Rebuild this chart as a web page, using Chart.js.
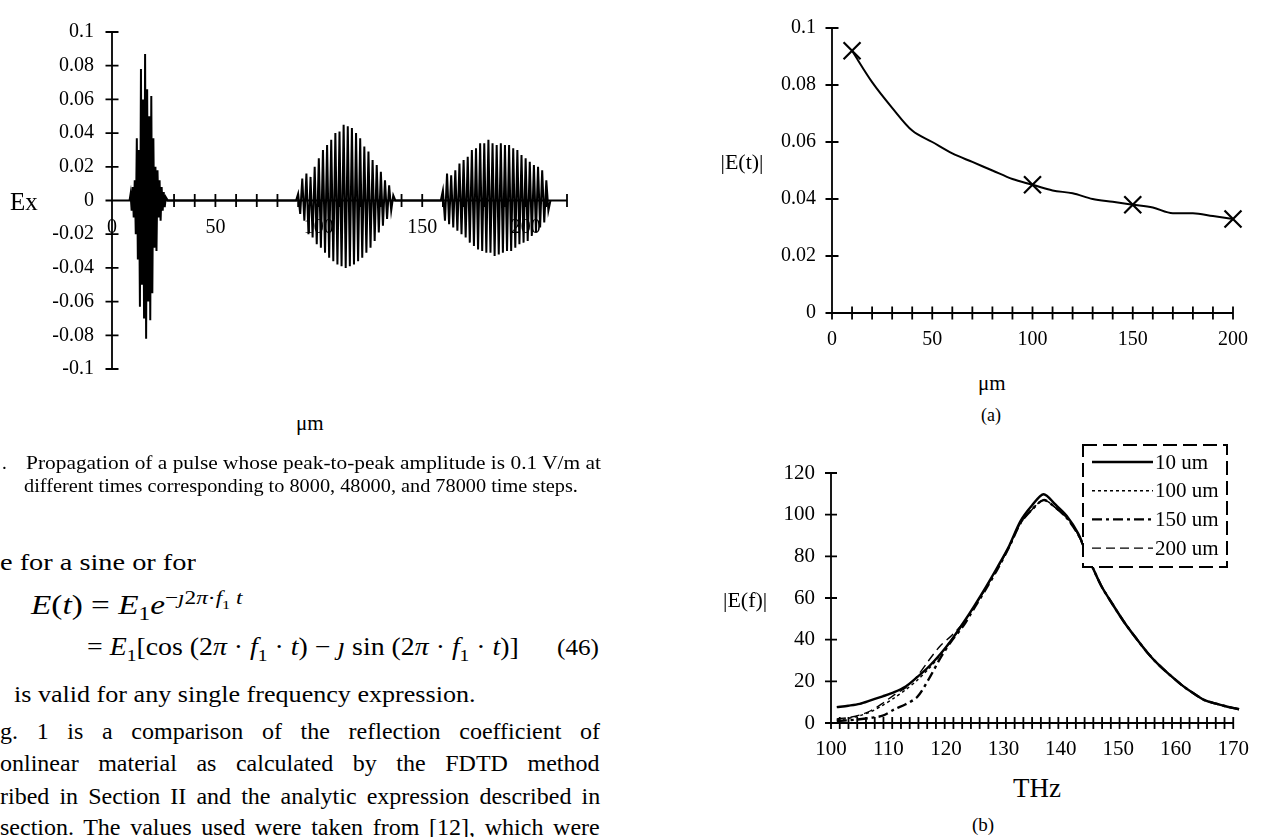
<!DOCTYPE html>
<html>
<head>
<meta charset="utf-8">
<script src="https://cdn.jsdelivr.net/npm/chart.js@4.4.1/dist/chart.umd.min.js"></script>
<style>
  html, body { margin: 0; padding: 0; background: #fff; overflow: hidden; }
  body { width: 1263px; height: 837px; position: relative; }
  .box { position: absolute; }
  .txt { position: absolute; white-space: nowrap; line-height: 1; font-family: 'Liberation Serif', serif; color: #000; transform-origin: 0 50%; }
  .txt sub, .txt sup { font-size: 70%; line-height: 0; }
</style>
</head>
<body>
<div class="box" style="left:0;top:0"><canvas id="pulse-chart" width="600" height="400"></canvas></div>
<div class="box" style="left:700px;top:0"><canvas id="decay-chart" width="563" height="370"></canvas></div>
<div class="box" style="left:700px;top:430px"><canvas id="spectrum-chart" width="563" height="340"></canvas></div>
<script>
// Fig. 2 - pulse snapshots, Ex vs position (um)
const pulseX = [
  8.5, 9, 9.5, 10, 10.5, 11, 11.5, 12, 12.5, 13, 13.5, 14, 14.5, 15, 15.5, 16, 16.5, 17, 17.5, 18,
  18.5, 19, 19.5, 20, 20.5, 21, 21.5, 22, 22.5, 23, 23.5, 24, 24.5, 25, 25.5, 26, 27,
  89, 90, 91, 92, 93, 94, 95, 96, 97, 98, 99, 100, 101, 102, 103, 104, 105, 106, 107, 108, 109,
  110, 111, 112, 113, 114, 115, 116, 117, 118, 119, 120, 121, 122, 123, 124, 125, 126, 127, 128,
  129, 130, 131, 132, 133, 134, 135, 136, 137,
  159, 160, 161, 162, 163, 164, 165, 166, 167, 168, 169, 170, 171, 172, 173, 174, 175, 176, 177,
  178, 179, 180, 181, 182, 183, 184, 185, 186, 187, 188, 189, 190, 191, 192, 193, 194, 195, 196,
  197, 198, 199, 200, 201, 202, 203, 204, 205, 206, 207, 208, 209, 210, 211, 212
];
const pulseEx = [
  0, 0.004, -0.006, 0.008, -0.01, 0.012, -0.02, 0.037, -0.035, 0.03, -0.063, 0.078, -0.05, 0.06, -0.07, 0.087, -0.082, 0.066, -0.06, 0.05,
  -0.071, 0.062, -0.055, 0.037, -0.028, 0.02, -0.03, 0.018, -0.01, 0.012, -0.012, 0.008, -0.006, 0.005, -0.004, 0.002, 0,
  0, 0.004, -0.008, 0.013, -0.012, 0.016, -0.02, 0.014, -0.022, 0.02, -0.026, 0.025, -0.028, 0.03, -0.031, 0.033, -0.034, 0.036, -0.036, 0.04, -0.038,
  0.041, -0.039, 0.045, -0.04, 0.044, -0.039, 0.043, -0.038, 0.04, -0.036, 0.037, -0.034, 0.032, -0.031, 0.029, -0.028, 0.024, -0.024, 0.021,
  -0.019, 0.017, -0.015, 0.012, -0.011, 0.009, -0.006, 0.003, 0,
  0, 0.006, -0.012, 0.016, -0.014, 0.015, -0.016, 0.018, -0.018, 0.022, -0.02, 0.024, -0.022, 0.026, -0.025, 0.03, -0.027, 0.031, -0.029,
  0.034, -0.03, 0.034, -0.031, 0.036, -0.031, 0.034, -0.033, 0.033, -0.032, 0.034, -0.031, 0.033, -0.03, 0.033, -0.03, 0.031, -0.028, 0.03,
  -0.026, 0.027, -0.025, 0.025, -0.024, 0.023, -0.021, 0.021, -0.019, 0.02, -0.016, 0.018, -0.013, 0.012, -0.006, 0
];

// (a) peak |E(t)| vs distance
const distX = [10, 20, 30, 40, 50, 60, 70, 80, 90, 100, 110, 120, 130, 140, 150, 160, 170, 180, 190, 200];
const peakE = [0.092, 0.081, 0.072, 0.064, 0.060, 0.056, 0.053, 0.050, 0.047, 0.045, 0.043, 0.042, 0.040, 0.039, 0.038, 0.037, 0.035, 0.035, 0.034, 0.033];
const markedX = [10, 100, 150, 200];

// (b) spectra |E(f)| vs THz
const freqTHz = [101, 103, 105, 107, 109, 111, 113, 115, 117, 119, 121, 123, 125, 127, 129, 131, 133, 135, 137,
  139, 141, 143, 145, 147, 149, 151, 153, 155, 157, 159, 161, 163, 165, 167, 169, 171, 172.5];
const spec10 = [7.6, 8.3, 9.2, 11.0, 12.8, 14.8, 17.5, 22.0, 27.0, 33.0, 40.0, 48.0, 56.5, 65.5, 75.0, 85.0, 97.0, 104.5, 109.8,
  105.0, 99.5, 91.0, 78.0, 66.0, 57.0, 48.5, 41.0, 34.0, 28.0, 23.0, 18.3, 14.4, 11.0, 9.3, 7.8, 6.6, 5.2];
const spec100 = [1.5, 2.2, 3.5, 5.5, 8.5, 12.0, 16.0, 20.5, 26.0, 32.5, 40.0, 47.5, 56.0, 65.0, 74.5, 84.5, 96.0, 102.5, 107.0,
  103.5, 98.5, 90.5, 78.0, 66.0, 57.0, 48.5, 41.0, 34.0, 28.0, 23.0, 18.3, 14.4, 11.0, 9.3, 7.8, 6.6, 5.2];
const spec150 = [1.0, 1.3, 1.8, 2.5, 3.5, 6.5, 9.0, 12.5, 21.0, 31.0, 39.5, 46.5, 55.5, 64.5, 74.0, 84.5, 96.0, 102.5, 107.0,
  103.5, 98.5, 90.5, 78.0, 66.0, 57.0, 48.5, 41.0, 34.0, 28.0, 23.0, 18.3, 14.4, 11.0, 9.3, 7.8, 6.6, 5.2];
const spec200 = [2.0, 2.6, 3.8, 6.0, 9.5, 13.5, 17.0, 22.5, 30.0, 37.0, 42.0, 48.0, 56.0, 65.0, 74.5, 84.5, 96.0, 102.5, 107.0,
  103.5, 98.5, 90.5, 78.0, 66.0, 57.0, 48.5, 41.0, 34.0, 28.0, 23.0, 18.3, 14.4, 11.0, 9.3, 7.8, 6.6, 5.2];
const specLabels = ['10 um', '100 um', '150 um', '200 um'];

Chart.defaults.font.family = "'Liberation Serif', serif";
Chart.defaults.color = '#000';

// axis lines with crossing tick marks, like the old spreadsheet plots
const axisMarks = {
  id: 'axisMarks',
  afterDatasetsDraw(chart, args, o) {
    const { ctx } = chart;
    const xs = chart.scales.x, ys = chart.scales.y;
    const yAxis = ys.getPixelForValue(0);
    const xAxis = xs.getPixelForValue(xs.min);
    const len = o.len;
    ctx.save();
    ctx.strokeStyle = '#000';
    ctx.lineWidth = o.lineWidth;
    ctx.beginPath();
    ctx.moveTo(xs.getPixelForValue(xs.min), yAxis);
    ctx.lineTo(xs.getPixelForValue(xs.max), yAxis);
    ctx.moveTo(xAxis, ys.getPixelForValue(ys.min));
    ctx.lineTo(xAxis, ys.getPixelForValue(ys.max));
    const nx = Math.round((xs.max - xs.min) / o.xStep);
    for (let i = 0; i <= nx; i++) {
      const px = xs.getPixelForValue(xs.min + i * o.xStep);
      ctx.moveTo(px, yAxis - len);
      ctx.lineTo(px, yAxis + len);
    }
    const ny = Math.round((ys.max - ys.min) / o.yStep);
    for (let i = 0; i <= ny; i++) {
      const py = ys.getPixelForValue(ys.min + i * o.yStep);
      ctx.moveTo(xAxis - len, py);
      ctx.lineTo(xAxis + len, py);
    }
    ctx.stroke();
    ctx.restore();
  }
};

// dashed legend box drawn inside the plot
const boxLegend = {
  id: 'boxLegend',
  afterDatasetsDraw(chart, args, o) {
    const { ctx, chartArea } = chart;
    const left = chartArea.left + o.dx, top = chartArea.top + o.dy;
    ctx.save();
    ctx.fillStyle = '#fff';
    ctx.fillRect(left, top, o.w, o.h);
    ctx.setLineDash([14, 6]);
    ctx.lineWidth = 2;
    ctx.strokeStyle = '#000';
    ctx.strokeRect(left, top, o.w, o.h);
    ctx.font = o.font;
    ctx.textBaseline = 'middle';
    ctx.fillStyle = '#000';
    chart.data.datasets.forEach((ds, i) => {
      const y = top + o.firstRow + i * o.rowGap;
      ctx.setLineDash(ds.borderDash || []);
      ctx.lineWidth = ds.borderWidth;
      ctx.beginPath();
      ctx.moveTo(left + 9, y);
      ctx.lineTo(left + 70, y);
      ctx.stroke();
      ctx.fillText(ds.label, left + 72, y + 1);
    });
    ctx.restore();
  }
};

const tickFont = { family: "'Liberation Serif', serif", size: 20 };
const fmt = v => String(+Number(v).toFixed(2));

new Chart(document.getElementById('pulse-chart'), {
  type: 'line',
  data: {
    datasets: [{
      data: pulseX.map((x, i) => ({ x: x, y: pulseEx[i] })),
      borderColor: '#000',
      borderWidth: 2,
      pointRadius: 0,
      tension: 0
    }]
  },
  plugins: [axisMarks],
  options: {
    responsive: false,
    animation: false,
    layout: { padding: { left: 0, top: 32, right: 33, bottom: 31 } },
    plugins: {
      legend: { display: false },
      tooltip: { enabled: false },
      axisMarks: { xStep: 10, yStep: 0.02, len: 6.5, lineWidth: 1.8 }
    },
    scales: {
      x: {
        type: 'linear', min: 0, max: 220, position: { y: 0 },
        grid: { display: false, drawTicks: false }, border: { display: false },
        ticks: { stepSize: 50, includeBounds: false, padding: 15, maxRotation: 0, autoSkip: false, font: tickFont, color: '#000' }
      },
      y: {
        min: -0.1, max: 0.1,
        grid: { display: false, drawTicks: false }, border: { display: false },
        ticks: { stepSize: 0.02, padding: 18, font: tickFont, color: '#000', callback: fmt },
        afterFit: s => { s.width = 112; }
      }
    }
  }
});

new Chart(document.getElementById('decay-chart'), {
  type: 'line',
  data: {
    datasets: [{
      data: distX.map((x, i) => ({ x: x, y: peakE[i] })),
      borderColor: '#000',
      borderWidth: 2,
      pointStyle: 'crossRot',
      pointRadius: distX.map(x => markedX.includes(x) ? 12 : 0),
      pointBorderWidth: 2.2,
      pointBorderColor: '#000',
      cubicInterpolationMode: 'monotone',
      clip: false
    }]
  },
  plugins: [axisMarks],
  options: {
    responsive: false,
    animation: false,
    layout: { padding: { left: 0, top: 15, right: 25, bottom: 17 } },
    plugins: {
      legend: { display: false },
      tooltip: { enabled: false },
      axisMarks: { xStep: 10, yStep: 0.02, len: 6.5, lineWidth: 1.8 }
    },
    scales: {
      x: {
        type: 'linear', min: 0, max: 200,
        grid: { display: false, drawTicks: false }, border: { display: false },
        ticks: { stepSize: 50, padding: 15, maxRotation: 0, autoSkip: false, font: tickFont, color: '#000' },
        afterFit: s => { s.height = 40; }
      },
      y: {
        min: 0, max: 0.1,
        grid: { display: false, drawTicks: false }, border: { display: false },
        ticks: { stepSize: 0.02, padding: 16, font: tickFont, color: '#000', callback: fmt },
        afterFit: s => { s.width = 132; }
      }
    }
  }
});

const specSeries = [spec10, spec100, spec150, spec200];
const specStyle = [
  { dash: [], width: 2.4 },
  { dash: [3, 3], width: 1.5 },
  { dash: [10, 4, 3, 4], width: 2.4 },
  { dash: [9, 5], width: 1.4 }
];

new Chart(document.getElementById('spectrum-chart'), {
  type: 'line',
  data: {
    datasets: specSeries.map((vals, k) => ({
      label: specLabels[k],
      data: freqTHz.map((f, i) => ({ x: f, y: vals[i] })),
      borderColor: '#000',
      borderWidth: specStyle[k].width,
      borderDash: specStyle[k].dash,
      pointRadius: 0,
      tension: 0.3,
      clip: false
    }))
  },
  plugins: [axisMarks, boxLegend],
  options: {
    responsive: false,
    animation: false,
    layout: { padding: { left: 0, top: 43, right: 21, bottom: 7 } },
    plugins: {
      legend: { display: false },
      tooltip: { enabled: false },
      axisMarks: { xStep: 70 / 46, yStep: 20, len: 6, lineWidth: 1.8 },
      boxLegend: { dx: 252, dy: -28, w: 144, h: 122, firstRow: 17, rowGap: 28.7, font: "21px 'Liberation Serif', serif" }
    },
    scales: {
      x: {
        type: 'linear', min: 100, max: 170,
        grid: { display: false, drawTicks: false }, border: { display: false },
        ticks: { stepSize: 10, padding: 14, maxRotation: 0, autoSkip: false, font: { family: tickFont.family, size: 21 }, color: '#000' },
        afterFit: s => { s.height = 40; }
      },
      y: {
        min: 0, max: 120,
        grid: { display: false, drawTicks: false }, border: { display: false },
        ticks: { stepSize: 20, padding: 16, font: { family: tickFont.family, size: 21 }, color: '#000' },
        afterFit: s => { s.width = 131; }
      }
    }
  }
});

// page text around the figures
function put(html, x, y, size, opt) {
  opt = opt || {};
  const d = document.createElement('div');
  d.className = 'txt';
  d.innerHTML = html;
  d.style.fontSize = size + 'px';
  d.style.top = (y - size * 0.55) + 'px';
  document.body.appendChild(d);
  const w = d.offsetWidth;
  if (opt.justify) {
    const gaps = (d.textContent.match(/ /g) || []).length;
    if (gaps) d.style.wordSpacing = ((opt.justify - w) / gaps) + 'px';
    d.style.left = x + 'px';
  } else if (opt.width) {
    d.style.transform = 'scaleX(' + (opt.width / w) + ')';
    d.style.left = x + 'px';
  } else if (opt.center) {
    d.style.left = (x - w / 2) + 'px';
  } else {
    d.style.left = x + 'px';
  }
}

put('Ex', 24, 203, 25, { center: true });
put('&mu;m', 310, 425, 21, { center: true });
put('|E(t)|', 742, 163, 22, { center: true });
put('&mu;m', 992, 385, 21, { center: true });
put('(a)', 991, 416, 18, { center: true });
put('|E(f)|', 745, 601, 22, { center: true });
put('THz', 1037, 790, 27, { center: true });
put('(b)', 983, 825, 19, { center: true });

put('.', 2, 463, 19);
put('Propagation of a pulse whose peak-to-peak amplitude is 0.1 V/m at', 26, 463, 19, { width: 575 });
put('different times corresponding to 8000, 48000, and 78000 time steps.', 24, 486, 19, { width: 554 });

put('e for a sine or for', 0, 563, 24, { width: 196 });
put('<i>E</i>(<i>t</i>) = <i>E</i><sub>1</sub><i>e</i><sup>&minus;<i>&#567;</i>2<i>&pi;</i>&middot;<i>f</i><sub>1</sub> <i>t</i></sup>', 31, 607, 27, { width: 212 });
put('= <i>E</i><sub>1</sub>[cos (2<i>&pi;</i> &middot; <i>f</i><sub>1</sub> &middot; <i>t</i>) &minus; <i>&#567;</i> sin (2<i>&pi;</i> &middot; <i>f</i><sub>1</sub> &middot; <i>t</i>)]', 87, 648, 25, { width: 432 });
put('(46)', 557, 648, 24, { width: 42 });
put('is valid for any single frequency expression.', 14, 695, 24, { width: 462 });
put('g. 1 is a comparison of the reflection coefficient of', 0, 732, 24, { justify: 600 });
put('onlinear material as calculated by the FDTD method', 0, 764, 24, { justify: 600 });
put('ribed in Section II and the analytic expression described in', 0, 797, 24, { justify: 600 });
put('section. The values used were taken from [12], which were', 0, 828, 24, { justify: 600 });
</script>
</body>
</html>
